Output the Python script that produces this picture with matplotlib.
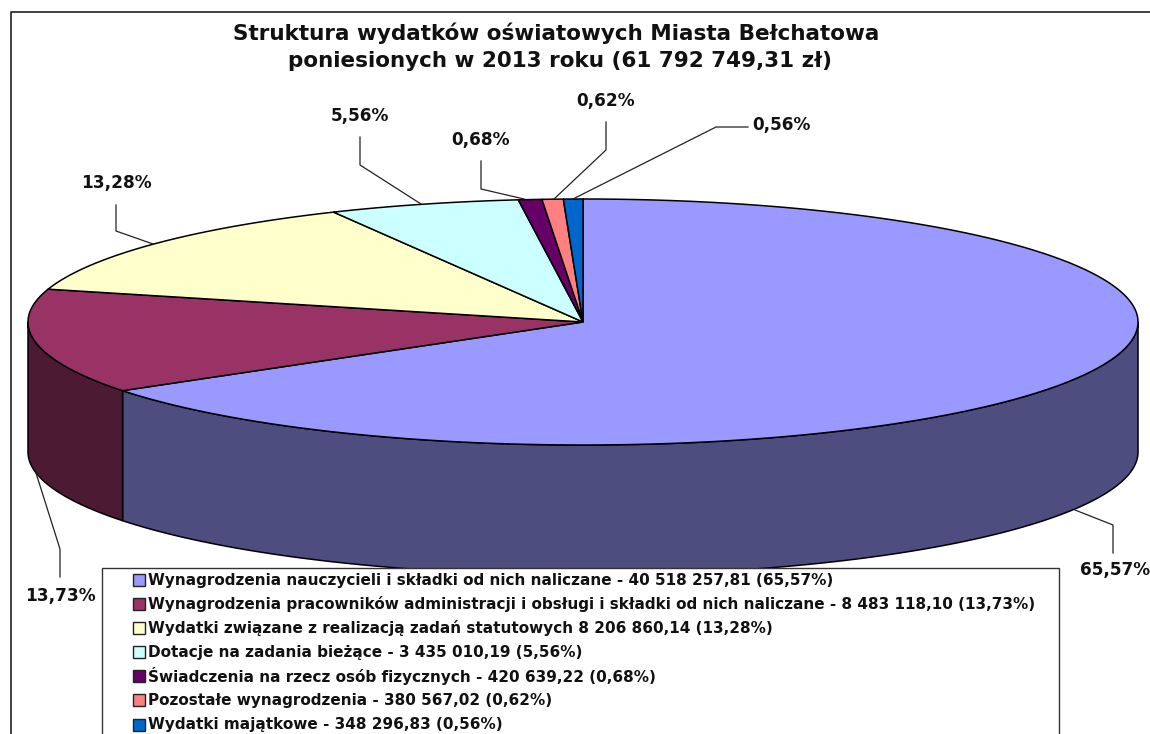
import numpy as np
import matplotlib
matplotlib.use("Agg")
import matplotlib.pyplot as plt
from matplotlib.patches import Polygon, Rectangle

title = ["Struktura wydatków oświatowych Miasta Bełchatowa",
         "poniesionych w 2013 roku (61 792 749,31 zł)"]
labels = [
    "Wynagrodzenia nauczycieli i składki od nich naliczane - 40 518 257,81 (65,57%)",
    "Wynagrodzenia pracowników administracji i obsługi i składki od nich naliczane - 8 483 118,10 (13,73%)",
    "Wydatki związane z realizacją zadań statutowych 8 206 860,14 (13,28%)",
    "Dotacje na zadania bieżące - 3 435 010,19 (5,56%)",
    "Świadczenia na rzecz osób fizycznych - 420 639,22 (0,68%)",
    "Pozostałe wynagrodzenia - 380 567,02 (0,62%)",
    "Wydatki majątkowe - 348 296,83 (0,56%)",
]
values = [40518257.81, 8483118.10, 8206860.14, 3435010.19, 420639.22, 380567.02, 348296.83]
pct_labels = ["65,57%", "13,73%", "13,28%", "5,56%", "0,68%", "0,62%", "0,56%"]
colors = ["#9999ff", "#993366", "#ffffcc", "#ccffff", "#660066", "#ff8080", "#0066cc"]
side_colors = ["#4d4d80", "#4d1a33"]

# pie geometry, in pixels of the picture
cx, cy = 583, 322
rx, ry = 555, 123
depth = 130

# leader lines and where the percent text sits
leaders = [
    [(1075, 510), (1113, 525), (1113, 553)],
    [(36, 473), (60, 549), (60, 577)],
    [(153, 244), (116, 231), (116, 205)],
    [(421, 204), (360, 165), (360, 137)],
    [(524, 199), (481, 189), (481, 161)],
    [(554, 199), (606, 150), (606, 122)],
    [(573, 199), (716, 127), (748, 127)],
]
label_pos = [(1115, 570), (60, 596), (116, 183), (360, 116), (481, 140), (606, 101), (781, 125)]
row_y = [580, 604, 628, 652, 676, 700, 725]

fig = plt.figure(figsize=(11.5, 7.34), dpi=100)
ax = fig.add_axes([0, 0, 1, 1])
ax.set_xlim(0, 1150)
ax.set_ylim(734, 0)
ax.axis("off")

# chart frame runs off the right and bottom of the picture
ax.plot([10.5, 10.5, 1150], [734, 11.5, 11.5], color="#333333", lw=1.3, zorder=1)


def rim(a0, a1):
    # clockwise angle from 12 o'clock
    t = np.linspace(a0, a1, max(int(abs(a1 - a0) * 200), 2))
    return cx + rx * np.sin(t), cy - ry * np.cos(t)


edges = np.concatenate([[0], np.cumsum(values)]) / np.sum(values) * 2 * np.pi

# side wall first, only the front half shows
for i in range(2):
    a0 = max(edges[i], np.pi / 2)
    a1 = min(edges[i + 1], 3 * np.pi / 2)
    x, y = rim(a0, a1)
    pts = np.r_[np.c_[x, y], np.c_[x[::-1], y[::-1] + depth]]
    ax.add_patch(Polygon(pts, fc=side_colors[i], ec="black", lw=1.1, zorder=2))

for i in range(len(values)):
    x, y = rim(edges[i], edges[i + 1])
    pts = np.r_[[[cx, cy]], np.c_[x, y]]
    ax.add_patch(Polygon(pts, fc=colors[i], ec="black", lw=1.1, zorder=3))

for line in leaders:
    ax.plot(*zip(*line), color="#222222", lw=0.9, zorder=4)
for (px, py), txt in zip(label_pos, pct_labels):
    ax.text(px, py, txt, ha="center", va="center", fontsize=12.2, fontweight="bold", color="#111111", zorder=5)

ax.text(556, 33, title[0], ha="center", va="center", fontsize=15.5, fontweight="bold", color="#111111", zorder=5)
ax.text(560, 61, title[1], ha="center", va="center", fontsize=15.5, fontweight="bold", color="#111111", zorder=5)

# legend box, cut off by the bottom edge
ax.add_patch(Rectangle((102, 568), 957, 190, fc="white", ec="#333333", lw=1, zorder=6))
for yy, c, lab in zip(row_y, colors, labels):
    ax.add_patch(Rectangle((133, yy - 6), 12, 12, fc=c, ec="#222222", lw=1, zorder=7))
    ax.text(148, yy, lab, ha="left", va="center", fontsize=10.95, fontweight="bold", color="#111111", zorder=7)

fig.savefig("out.png", dpi=100)
